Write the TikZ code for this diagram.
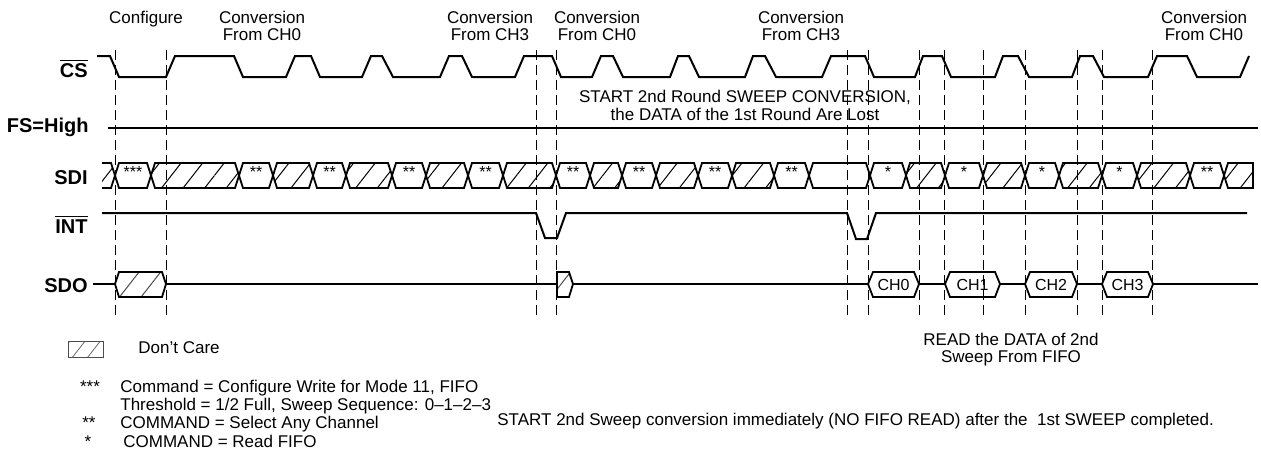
\documentclass[tikz,border=0pt]{standalone}
\usepackage{fontspec}
\setmainfont{Liberation Sans}
\usetikzlibrary{patterns.meta}

\tikzset{
  wave/.style={line width=1pt, line join=miter},
  bus/.style={line width=0.9pt, line join=miter},
  guide/.style={line width=0.5pt, dash pattern=on 5pt off 2.5pt},
  dontcare/.style={pattern={Lines[angle=52,distance=8.5pt,line width=0.5pt]}},
  sig/.style={font=\fontsize{10}{12}\selectfont\bfseries, anchor=base east, inner sep=0pt},
  note/.style={font=\fontsize{8.5}{8.5}\selectfont, align=center, inner sep=0pt},
  txt/.style={font=\fontsize{8.5}{10}\selectfont, anchor=base west, inner sep=0pt},
  star/.style={font=\fontsize{8}{9}\selectfont, anchor=base, inner sep=0pt},
  chan/.style={font=\fontsize{8}{9}\selectfont, inner sep=0pt},
}

\begin{document}
\begin{tikzpicture}[x=0.5pt,y=-0.5pt]
   \useasboundingbox (0,0) rectangle (1261,450);

   % signal names
   \node[sig] (cs)  at (88,77)  {$\overline{\hbox{CS}}$};
   \node[sig] (fs)  at (89,132) {FS=High};
   \node[sig] (sdi) at (88,184) {SDI};
   \node[sig] (int) at (88,233) {$\overline{\hbox{INT}}$};
   \node[sig] (sdo) at (88,292) {SDO};

   % phase labels
   \node[note] (cfg)  at (146,19)  {Configure};
   \node[note] (cva)  at (262,26)  {Conversion\\From CH0};
   \node[note] (cvb)  at (490,26)  {Conversion\\From CH3};
   \node[note] (cvc)  at (597,26)  {Conversion\\From CH0};
   \node[note] (cvd)  at (801,26)  {Conversion\\From CH3};
   \node[note] (cve)  at (1204,26) {Conversion\\From CH0};
   \node[note, font=\fontsize{8.5}{9}\selectfont] (lost) at (745,105)
        {START 2nd Round SWEEP CONVERSION,\\the DATA of the 1st Round Are Lost};

   % guide lines
   \foreach \x in {115,166,536,556,847,868,919,944,983,1025,1077,1102,1152}
      \draw[guide] (\x,50) -- (\x,318);

   % CS
   \draw[wave] (97,56) -- (110,56) -- (119,77) -- (166,77) -- (175,56) -- (234,56)
      -- (243,77) -- (286,77) -- (295,56) -- (311,56) -- (320,77) -- (362,77)
      -- (371,56) -- (382,56) -- (393,77) -- (440,77) -- (449,56) -- (462,56)
      -- (472,77) -- (515,77) -- (524,56) -- (552,56) -- (561,77) -- (592,77)
      -- (601,56) -- (613,56) -- (623,77) -- (670,77) -- (678,56) -- (689,56)
      -- (699,77) -- (745,77) -- (753,56) -- (765,56) -- (776,77) -- (822,77)
      -- (831,56) -- (865,56) -- (874,77) -- (915,77) -- (923,56) -- (942,56)
      -- (951,77) -- (995,77) -- (1003,56) -- (1018,56) -- (1029,77) -- (1072,77)
      -- (1080,56) -- (1093,56) -- (1104,77) -- (1148,77) -- (1157,56) -- (1187,56)
      -- (1197,77) -- (1240,77) -- (1249,56);

   % FS
   \draw[wave] (108,128) -- (1258,128);

   % SDI
   \path[dontcare] (102,163) -- (111,163) -- (115,175.5) -- (111,188) -- (102,188) -- cycle;
   \draw[bus] (102,163) -- (111,163) -- (115,175.5) -- (111,188) -- (102,188);
   \foreach \a/\b in {151/239,273/313,346/392,426/468,503/556,590/622,656/698,
                      732/774,906/945,983/1025,1059/1102,1137/1190}
      \draw[bus, dontcare] (\a,175.5) -- (\a+4,163) -- (\b-4,163) -- (\b,175.5)
         -- (\b-4,188) -- (\a+4,188) -- cycle;
   \draw[bus] (809,175.5) -- (813,163) -- (866,163) -- (870,175.5)
      -- (866,188) -- (813,188) -- cycle;
   \draw[bus, dontcare] (1224,175.5) -- (1228,163) -- (1253,163) -- (1253,188)
      -- (1228,188) -- cycle;
   \foreach \a/\b/\t in {115/151/***,239/273/**,313/346/**,392/426/**,468/503/**,
                         556/590/**,622/656/**,698/732/**,774/809/**,870/906/*,
                         945/983/*,1025/1059/*,1102/1137/*,1190/1224/**}
   {
      \draw[bus] (\a,175.5) -- (\a+4,163) -- (\b-4,163) -- (\b,175.5)
         -- (\b-4,188) -- (\a+4,188) -- cycle;
      \node[star] (cmd\a) at ({(\a+\b)/2},177) {\t};
   }

   % INT
   \draw[wave] (102,213) -- (536,213) -- (545,238) -- (557,238) -- (566,213)
      -- (847,213) -- (856,239) -- (867,239) -- (876,213) -- (1247,213);

   % SDO
   \draw[wave] (93,284) -- (115,284);
   \draw[wave] (166,284) -- (557,284);
   \draw[wave] (573,284) -- (868,284);
   \draw[wave] (919,284) -- (945,284);
   \draw[wave] (1000,284) -- (1025,284);
   \draw[wave] (1077,284) -- (1102,284);
   \draw[wave] (1153,284) -- (1258,284);
   \draw[bus, dontcare, pattern color=black!70] (115,284) -- (119,272) -- (162,272)
      -- (166,284) -- (162,297) -- (119,297) -- cycle;
   \draw[bus, dontcare, pattern color=black!70] (557,272) -- (569,272) -- (573,284)
      -- (569,297) -- (557,297) -- cycle;
   \foreach \a/\b/\t in {868/919/CH0,945/1000/CH1,1025/1077/CH2,1102/1153/CH3}
   {
      \draw[bus] (\a,284) -- (\a+5,272) -- (\b-5,272) -- (\b,284)
         -- (\b-5,297) -- (\a+5,297) -- cycle;
      \node[chan] (\t) at ({(\a+\b)/2},284.5) {\t};
   }

   % legend
   \draw[line width=0.5pt, black!70, pattern={Lines[angle=52,distance=6pt,line width=0.4pt]},
         pattern color=black!60] (68,341) rectangle (103,357);
   \node[txt] (dc) at (138,353) {Don't Care};
   \node[star, font=\fontsize{8.5}{10}\selectfont] (s3) at (90,392) {***};
   \node[txt] (l1) at (120,392) {Command = Configure Write for Mode 11, FIFO};
   \node[txt] (l2) at (120,410) {Threshold = 1/2 Full, Sweep Sequence: 0--1--2--3};
   \node[star, font=\fontsize{8.5}{10}\selectfont] (s2) at (89,428) {**};
   \node[txt] (l3) at (120,428) {COMMAND = Select Any Channel};
   \node[star, font=\fontsize{8.5}{10}\selectfont] (s1) at (88,447) {*};
   \node[txt] (l4) at (123,447) {COMMAND = Read FIFO};

   \node[note] (rd) at (1011,350) {READ the DATA of 2nd\\Sweep From FIFO};
   \node[txt] (nofifo) at (497,425)
        {START 2nd Sweep conversion immediately (NO FIFO READ) after the\ \ 1st SWEEP completed.};
\end{tikzpicture}
\end{document}
